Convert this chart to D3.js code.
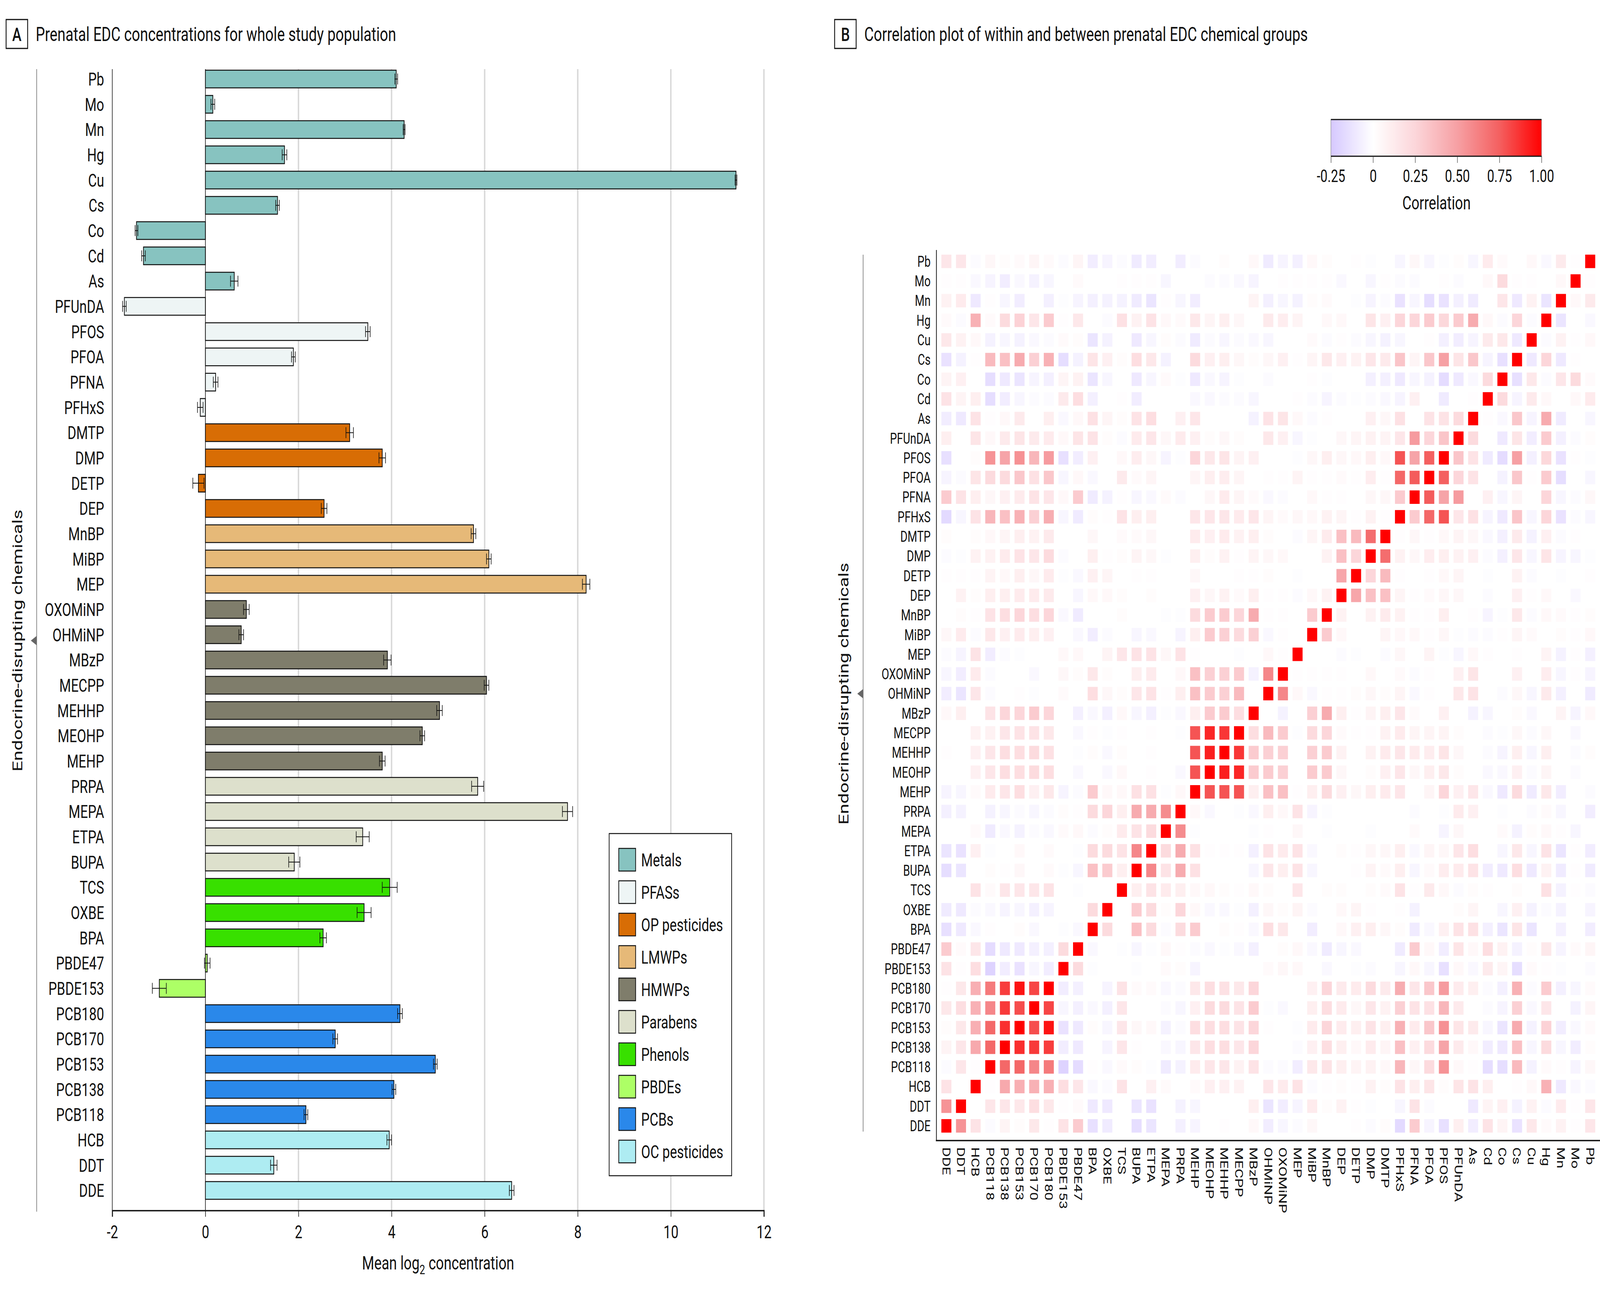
<!DOCTYPE html>
<html>
<head>
<meta charset="utf-8">
<script src="https://cdn.jsdelivr.net/npm/d3@7"></script>
<style>
html, body { margin: 0; padding: 0; background: #fff; overflow: hidden; }
#chart { display: block; width: 100vw; height: 100vh; }
text { font-family: Roboto, "Liberation Sans", sans-serif; fill: #111; }
</style>
</head>
<body>
<svg id="chart" viewBox="0 0 5500 3300" preserveAspectRatio="none"></svg>
<script>
// chemicals, top to bottom in both panels
const chemicals = ["Pb", "Mo", "Mn", "Hg", "Cu", "Cs", "Co", "Cd", "As",
    "PFUnDA", "PFOS", "PFOA", "PFNA", "PFHxS",
    "DMTP", "DMP", "DETP", "DEP",
    "MnBP", "MiBP", "MEP",
    "OXOMiNP", "OHMiNP", "MBzP", "MECPP", "MEHHP", "MEOHP", "MEHP",
    "PRPA", "MEPA", "ETPA", "BUPA",
    "TCS", "OXBE", "BPA",
    "PBDE47", "PBDE153",
    "PCB180", "PCB170", "PCB153", "PCB138", "PCB118",
    "HCB", "DDT", "DDE"];

const chemGroup = ["Metals", "Metals", "Metals", "Metals", "Metals", "Metals", "Metals", "Metals", "Metals",
    "PFASs", "PFASs", "PFASs", "PFASs", "PFASs",
    "OP pesticides", "OP pesticides", "OP pesticides", "OP pesticides",
    "LMWPs", "LMWPs", "LMWPs",
    "HMWPs", "HMWPs", "HMWPs", "HMWPs", "HMWPs", "HMWPs", "HMWPs",
    "Parabens", "Parabens", "Parabens", "Parabens",
    "Phenols", "Phenols", "Phenols",
    "PBDEs", "PBDEs",
    "PCBs", "PCBs", "PCBs", "PCBs", "PCBs",
    "OC pesticides", "OC pesticides", "OC pesticides"];

const meanLog2 = [4.10, 0.16, 4.27, 1.70, 11.40, 1.55, -1.48, -1.33, 0.62,
    -1.74, 3.49, 1.89, 0.22, -0.11,
    3.10, 3.80, -0.15, 2.55,
    5.76, 6.09, 8.18,
    0.88, 0.77, 3.91, 6.04, 5.03, 4.66, 3.80,
    5.85, 7.78, 3.38, 1.91,
    3.96, 3.41, 2.53,
    0.04, -0.99,
    4.18, 2.79, 4.94, 4.05, 2.16,
    3.95, 1.47, 6.58];

const meanErr = [0.03, 0.04, 0.02, 0.05, 0.02, 0.04, 0.03, 0.04, 0.08,
    0.04, 0.05, 0.04, 0.05, 0.06,
    0.08, 0.07, 0.12, 0.06,
    0.05, 0.05, 0.08,
    0.06, 0.05, 0.08, 0.05, 0.06, 0.05, 0.06,
    0.13, 0.11, 0.14, 0.12,
    0.16, 0.15, 0.07,
    0.06, 0.15,
    0.05, 0.05, 0.04, 0.04, 0.04,
    0.05, 0.07, 0.05];

const groupNames = ["Metals", "PFASs", "OP pesticides", "LMWPs", "HMWPs",
    "Parabens", "Phenols", "PBDEs", "PCBs", "OC pesticides"];
const groupFill = ["#87c3c0", "#eef5f5", "#d86d05", "#e6b978", "#7f7d6b",
    "#dde0cc", "#38e000", "#adff66", "#2a88ea", "#aeecf2"];

const xTicks = [-2, 0, 2, 4, 6, 8, 10, 12];
const corrTicks = [-0.25, 0, 0.25, 0.5, 0.75, 1];
const corrTickLabels = ["-0.25", "0", "0.25", "0.50", "0.75", "1.00"];

// correlations, row i = chemicals[i], entries for columns DDE, DDT, HCB, ... (reverse order) up to chemicals[i+1]
const corrRows = [
    [0.15, 0.15, -0.02, 0.05, 0.02, 0.03, 0.06, 0.03, -0.02, 0.06, -0.08, -0.05, -0.02, -0.09, -0.08, 0, -0.08, -0.02, 0, 0.02, 0, 0.04, -0.09, -0.05, -0.07, 0.04, 0.02, 0, 0.01, -0.01, 0, -0.04, 0.05, -0.04, -0.01, 0.02, -0.04, 0.12, 0.03, 0, 0.04, -0.03, 0.13, 0.01],
    [0.01, 0.01, -0.03, -0.05, -0.08, -0.03, -0.06, -0.04, 0, 0.03, 0, 0, 0.01, 0.01, 0.01, -0.04, 0, 0, -0.02, -0.02, -0.03, -0.05, 0, 0.01, 0.01, 0.01, 0.01, -0.03, 0, -0.04, 0.01, -0.02, -0.02, 0, 0.01, -0.02, 0, 0.04, 0.22, 0.01, 0.01, 0, 0.04],
    [0.08, 0.12, -0.1, 0.01, -0.04, -0.08, 0, -0.07, -0.01, -0.05, -0.07, -0.06, -0.06, -0.09, -0.12, 0.01, -0.04, -0.08, 0, 0, 0, 0.07, -0.07, -0.04, -0.06, 0.02, 0.03, 0, -0.01, -0.05, -0.02, -0.13, -0.04, -0.15, -0.13, -0.07, -0.09, 0, 0.15, -0.1, 0.08, -0.12],
    [0.03, -0.02, 0.42, 0.03, 0.22, 0.27, 0.15, 0.3, 0.01, 0.14, 0, -0.02, 0.18, 0.08, 0.17, 0.04, 0.03, 0.14, 0.06, 0.1, 0.05, 0, 0.13, 0.11, 0.07, 0, 0.04, 0.04, 0, 0.16, 0.09, 0.25, 0.25, 0.3, 0.24, 0.3, 0.45, 0.04, -0.02, 0.25, -0.02],
    [0.14, 0.08, 0.04, -0.06, -0.04, -0.06, -0.03, -0.02, 0.03, 0.02, -0.12, -0.06, 0, -0.1, -0.04, 0.02, -0.02, -0.09, -0.02, -0.04, -0.02, -0.03, -0.04, 0, 0, 0.03, -0.02, 0.01, -0.02, -0.04, -0.06, -0.04, 0, 0.01, -0.07, -0.08, -0.05, 0.13, 0.14, -0.1],
    [-0.13, -0.06, 0.01, 0.38, 0.35, 0.45, 0.28, 0.42, -0.15, -0.06, 0.16, 0.09, 0.02, 0.2, 0.14, -0.06, 0, 0.22, 0.09, 0.1, 0.05, 0.02, 0.05, 0.09, 0.01, 0.06, 0.14, 0.09, 0.08, 0.15, 0.13, 0.33, 0.06, 0.32, 0.5, 0.16, 0.32, -0.05, -0.14],
    [0.07, 0.09, 0, -0.15, -0.1, -0.12, -0.05, -0.07, 0.06, 0.08, -0.12, -0.04, 0, -0.1, -0.04, 0.03, -0.01, -0.1, -0.03, -0.05, -0.01, 0, -0.02, 0, 0, 0.01, -0.01, 0, 0, -0.07, -0.07, -0.1, -0.04, -0.06, -0.16, -0.1, -0.03, 0.22],
    [0.17, 0.07, 0.1, -0.15, -0.08, -0.04, -0.02, -0.02, 0.13, 0.2, -0.07, 0, 0.01, -0.08, 0, 0, 0, -0.03, -0.03, -0.02, -0.02, -0.04, 0, 0, 0.01, -0.02, -0.05, -0.02, -0.01, -0.02, -0.03, -0.05, 0.09, 0, -0.09, 0, 0.01],
    [-0.08, -0.1, 0.17, 0.01, 0.04, 0.13, 0, 0.1, -0.03, 0.04, 0.18, 0.06, 0.02, 0.17, 0.2, 0, 0.09, 0.15, 0, 0, 0, -0.06, 0.17, 0.16, 0.04, -0.02, 0.01, 0, 0, 0.09, 0.05, 0.18, 0, 0.17, 0.17, 0.22],
    [0.1, 0, 0.16, 0.04, 0.13, 0.16, 0.13, 0.12, 0.04, 0.16, 0.17, 0.02, -0.02, 0.12, 0.15, 0.05, 0.12, 0.09, 0.02, 0.05, 0.02, 0, 0.14, 0.09, -0.04, -0.01, 0, 0.05, 0.06, 0.08, 0.07, 0.15, 0.52, 0.25, 0.33],
    [-0.14, 0, 0.02, 0.55, 0.48, 0.56, 0.4, 0.52, -0.14, -0.08, 0.09, 0, 0.04, 0.11, 0.05, -0.05, -0.01, 0.25, 0.14, 0.16, 0.07, 0.09, 0, 0, -0.01, 0.05, 0.1, 0.05, 0.04, 0.1, 0.04, 0.78, 0.48, 0.75],
    [-0.05, -0.02, 0.16, 0.22, 0.22, 0.32, 0.18, 0.32, -0.04, 0.04, -0.03, 0, 0.13, 0.03, 0.06, 0, 0, 0.06, 0.1, 0.11, 0.06, 0, 0.01, 0.01, 0.07, 0.01, 0.01, 0.03, 0.01, 0.11, 0.01, 0.72, 0.76],
    [0.3, 0.17, 0.1, 0.05, 0.09, 0.12, 0.17, 0.15, 0.04, 0.3, -0.09, -0.06, 0.01, -0.04, -0.03, 0.03, -0.02, 0, 0.05, 0.12, 0.06, 0.03, -0.03, -0.02, 0, 0.04, 0.01, 0.01, 0, 0.05, 0.05, 0.3],
    [-0.17, -0.04, 0.17, 0.4, 0.35, 0.42, 0.28, 0.44, -0.04, -0.09, 0.02, 0.01, 0.17, 0.1, 0.1, 0, 0, 0.15, 0.15, 0.15, 0.12, 0.15, 0.06, 0.03, 0.05, 0.04, 0.08, 0.06, 0.01, 0.08, 0.01],
    [0.02, 0, 0.02, 0.04, 0.06, 0.1, 0.08, 0.13, 0, 0, 0.05, 0, 0.03, 0.03, 0.05, 0, 0, 0.12, 0.09, 0.12, 0.08, 0.1, 0.02, 0, -0.02, 0.06, 0.12, 0.35, 0.38, 0.7],
    [-0.02, -0.01, 0.08, 0.08, 0.12, 0.17, 0.15, 0.22, -0.02, 0, 0.1, 0.01, 0.02, 0.07, 0.05, -0.01, 0, 0.1, 0.02, 0.08, 0.01, 0.07, 0.05, 0.04, 0, 0, 0.08, 0.35, 0.25],
    [0.01, 0.01, 0.01, 0.07, 0.04, 0.1, 0.05, 0.12, -0.01, -0.03, 0.09, 0.06, 0, 0.01, 0.01, 0, 0, 0.05, 0, 0, 0.01, 0.01, 0.02, 0, -0.01, 0, 0, 0.47],
    [0, 0.08, 0.02, 0.1, 0.1, 0.12, 0.12, 0.13, 0, -0.04, 0.04, 0.04, 0.02, 0, 0.02, 0, 0, 0.09, 0.05, 0.08, 0.03, 0.1, 0.01, 0.01, -0.02, 0.04, 0.08],
    [0, 0.02, 0.01, 0.17, 0.2, 0.25, 0.2, 0.25, -0.03, -0.09, 0, 0, 0.02, 0, 0, -0.01, -0.01, 0.22, 0.3, 0.3, 0.25, 0.45, 0.01, 0.01, 0, 0.3],
    [0.05, 0.12, -0.02, 0.14, 0.09, 0.12, 0.1, 0.09, 0, -0.03, -0.08, -0.02, 0, -0.04, -0.03, 0, -0.05, 0.1, 0.3, 0.28, 0.22, 0.28, -0.03, 0.01, 0],
    [-0.02, -0.05, 0.17, -0.08, -0.02, -0.01, 0, 0, 0.04, 0.04, 0, 0.07, 0.15, 0.17, 0.17, 0.05, 0.17, 0.01, 0, 0, -0.01, 0, 0.04, 0.01],
    [-0.04, -0.08, 0.12, -0.02, 0, 0, -0.03, 0, 0.05, 0.02, 0.14, 0.02, 0, 0.1, 0.12, 0, 0.04, 0.35, 0.28, 0.28, 0.3, -0.06, 0.6],
    [-0.08, -0.12, 0.15, -0.02, 0, 0.01, -0.01, 0, 0.03, 0, 0.2, 0.05, 0.02, 0.15, 0.17, 0.01, 0.1, 0.35, 0.3, 0.28, 0.38, 0],
    [0.04, 0.1, 0, 0.17, 0.25, 0.25, 0.3, 0.25, 0, -0.07, -0.03, -0.07, 0.04, -0.04, -0.07, -0.01, -0.03, 0.1, 0.3, 0.3, 0.2],
    [0, 0, 0.08, 0.08, 0.15, 0.17, 0.17, 0.14, 0, -0.03, 0.01, -0.01, 0.01, 0, 0.01, 0, -0.01, 0.78, 0.9, 0.86],
    [0.01, 0, 0.09, 0.15, 0.2, 0.2, 0.22, 0.18, 0, -0.01, 0.02, -0.03, 0.02, 0, 0.01, 0, 0, 0.78, 0.92],
    [0, 0, 0.09, 0.15, 0.2, 0.2, 0.22, 0.2, 0, -0.03, 0, -0.03, 0.04, 0, 0.01, 0, -0.03, 0.78],
    [-0.05, -0.04, 0.03, 0.12, 0.15, 0.2, 0.09, 0.14, -0.05, -0.02, 0.3, 0.04, 0.04, 0.18, 0.18, -0.01, 0.04],
    [-0.07, -0.06, 0, -0.06, -0.04, -0.02, -0.04, -0.02, 0.02, 0.01, 0.22, 0.25, 0.1, 0.45, 0.45, 0.58],
    [0, 0, 0.03, -0.09, -0.03, -0.06, -0.02, -0.03, 0.03, 0.04, -0.02, 0.02, 0.12, 0.17, 0.22],
    [-0.12, -0.13, 0.09, -0.01, 0, 0.04, 0, 0.03, 0, -0.01, 0.22, 0.22, 0.17, 0.6],
    [-0.15, -0.12, 0, 0.02, 0.01, 0.05, 0, 0.03, -0.01, -0.04, 0.35, 0.3, 0.1],
    [0, 0, 0.17, 0.03, 0.15, 0.15, 0.15, 0.17, 0, -0.01, 0, 0],
    [-0.09, -0.1, -0.02, -0.03, -0.05, -0.04, -0.07, -0.05, 0, 0, 0.22],
    [-0.14, -0.1, -0.03, 0.01, 0, 0.02, -0.03, 0, -0.01, -0.03],
    [0.3, 0.03, 0.15, -0.16, -0.1, -0.1, -0.07, -0.07, 0.22],
    [0.17, 0.01, 0.2, -0.2, -0.08, -0.13, -0.04, -0.08],
    [0.01, 0.14, 0.43, 0.65, 0.84, 0.95, 0.82],
    [0.14, 0.2, 0.42, 0.6, 0.85, 0.8],
    [0.02, 0.14, 0.43, 0.72, 0.88],
    [0.07, 0.15, 0.46, 0.72],
    [-0.02, 0.15, 0.01],
    [0.17, 0],
    [0.55],
    []
];

const n = chemicals.length;
const corr = (i, j) => {
    if (i === j) return 1;
    const a = Math.min(i, j), b = Math.max(i, j);
    return corrRows[a][n - 1 - b];
};

const svg = d3.select("#chart");
svg.append("rect").attr("width", 5500).attr("height", 3300).attr("fill", "#fff");

// ---------- panel A: bars ----------
const x = d3.scaleLinear().domain([-2, 12]).range([386, 2626]);
const y = d3.scaleBand().domain(chemicals).range([170, 3080]).paddingInner(0.3).paddingOuter(0.15);
const fill = d3.scaleOrdinal().domain(groupNames).range(groupFill);
const plotTop = 177, plotBottom = 3099;

const gA = svg.append("g");

gA.selectAll(".grid")
    .data(xTicks.filter(d => d > 0))
    .join("line")
    .attr("class", "grid")
    .attr("x1", d => x(d)).attr("x2", d => x(d))
    .attr("y1", plotTop).attr("y2", plotBottom)
    .attr("stroke", "#d9d9d9")
    .attr("stroke-width", 5);

[-2, 0].forEach(v => {
    gA.append("line")
        .attr("x1", x(v)).attr("x2", x(v))
        .attr("y1", plotTop).attr("y2", plotBottom)
        .attr("stroke", "#111")
        .attr("stroke-width", 2);
});

const rows = chemicals.map((c, i) => ({name: c, group: chemGroup[i], value: meanLog2[i], err: meanErr[i]}));

gA.selectAll(".bar")
    .data(rows)
    .join("rect")
    .attr("class", "bar")
    .attr("x", d => x(Math.min(0, d.value)))
    .attr("y", d => y(d.name))
    .attr("width", d => Math.abs(x(d.value) - x(0)))
    .attr("height", y.bandwidth())
    .attr("fill", d => fill(d.group))
    .attr("stroke", "#111")
    .attr("stroke-width", 2.5);

const eb = gA.selectAll(".err")
    .data(rows)
    .join("g")
    .attr("class", "err")
    .attr("transform", d => `translate(0,${y(d.name) + y.bandwidth() / 2})`)
    .attr("stroke", "#111")
    .attr("stroke-width", 2);
eb.append("line")
    .attr("x1", d => x(d.value - d.err)).attr("x2", d => x(d.value + d.err))
    .attr("y1", 0).attr("y2", 0);
eb.append("line")
    .attr("x1", d => x(d.value - d.err)).attr("x2", d => x(d.value - d.err))
    .attr("y1", -14).attr("y2", 14);
eb.append("line")
    .attr("x1", d => x(d.value + d.err)).attr("x2", d => x(d.value + d.err))
    .attr("y1", -14).attr("y2", 14);

gA.selectAll(".ylab")
    .data(chemicals)
    .join("text")
    .attr("class", "ylab")
    .attr("x", 358)
    .attr("y", d => y(d) + y.bandwidth() / 2)
    .attr("dy", "0.36em")
    .attr("text-anchor", "end")
    .style("font-size", "46px")
    .text(d => d);

const xAxis = gA.append("g")
    .attr("transform", `translate(0,${plotBottom})`)
    .call(d3.axisBottom(x).tickValues(xTicks).tickSize(16).tickPadding(22).tickFormat(d3.format("d")));
xAxis.select(".domain").attr("stroke", "#111").attr("stroke-width", 3.5);
xAxis.selectAll(".tick line").attr("stroke", "#111").attr("stroke-width", 2);
xAxis.selectAll(".tick text")
    .style("font-size", "46px")
    .style("font-family", "Roboto, sans-serif")
    .attr("fill", "#111")
    .text(d => d < 0 ? "-" + Math.abs(d) : d);

const xTitle = gA.append("text")
    .attr("x", 1506)
    .attr("y", 3250)
    .attr("text-anchor", "middle")
    .style("font-size", "48px");
xTitle.append("tspan").text("Mean log");
xTitle.append("tspan").attr("dy", 12).style("font-size", "34px").text("2");
xTitle.append("tspan").attr("dy", -12).text(" concentration");

// y title with bracket
gA.append("line")
    .attr("x1", 126).attr("x2", 126)
    .attr("y1", plotTop).attr("y2", 3102)
    .attr("stroke", "#888").attr("stroke-width", 2.5);
gA.append("path")
    .attr("d", `M126,${1640 - 12}L106,1640L126,${1640 + 12}Z`)
    .attr("fill", "#666");
gA.append("text")
    .attr("transform", "translate(77,1640) rotate(-90)")
    .attr("text-anchor", "middle")
    .style("font-size", "48px")
    .text("Endocrine-disrupting chemicals");

// legend
const lg = gA.append("g");
lg.append("rect")
    .attr("x", 2094).attr("y", 2134)
    .attr("width", 421).attr("height", 876)
    .attr("fill", "#fff")
    .attr("stroke", "#111")
    .attr("stroke-width", 2.5);
const li = lg.selectAll(".leg")
    .data(groupNames)
    .join("g")
    .attr("class", "leg")
    .attr("transform", (d, i) => `translate(2127,${2201 + i * 83})`);
li.append("rect")
    .attr("x", 0).attr("y", -29)
    .attr("width", 58).attr("height", 58)
    .attr("fill", d => fill(d))
    .attr("stroke", "#111")
    .attr("stroke-width", 2.5);
li.append("text")
    .attr("x", 77)
    .attr("dy", "0.36em")
    .style("font-size", "46px")
    .text(d => d);

// panel titles
function panelTitle(xBox, letter, label) {
    svg.append("rect")
        .attr("x", xBox).attr("y", 50)
        .attr("width", 74).attr("height", 74)
        .attr("fill", "#fff")
        .attr("stroke", "#111")
        .attr("stroke-width", 3);
    svg.append("text")
        .attr("x", xBox + 37).attr("y", 105)
        .attr("text-anchor", "middle")
        .style("font-size", "48px")
        .style("font-weight", "500")
        .text(letter);
    svg.append("text")
        .attr("x", xBox + 102).attr("y", 105)
        .style("font-size", "50px")
        .text(label);
}
panelTitle(21, "A", "Prenatal EDC concentrations for whole study population");
panelTitle(2869, "B", "Correlation plot of within and between prenatal EDC chemical groups");

// ---------- panel B: correlation heatmap ----------
const colDomain = chemicals.slice().reverse();
const xh = d3.scaleBand().domain(colDomain).range([3228, 5491.5]).paddingInner(0.314).paddingOuter(0.157);
const yh = d3.scaleBand().domain(chemicals).range([644, 2907.5]).paddingInner(0.314).paddingOuter(0.157);
const color = d3.scaleLinear()
    .domain(corrTicks)
    .range(["#d6c8ff", "#ffffff", "#fcd6da", "#f6a0a4", "#f46060", "#ff0000"])
    .clamp(true);

const cells = [];
chemicals.forEach((ri, i) => {
    chemicals.forEach((cj, j) => {
        cells.push({row: ri, col: cj, value: corr(i, j)});
    });
});

const gB = svg.append("g");
gB.selectAll(".cell")
    .data(cells)
    .join("rect")
    .attr("class", "cell")
    .attr("x", d => xh(d.col))
    .attr("y", d => yh(d.row))
    .attr("width", xh.bandwidth())
    .attr("height", yh.bandwidth())
    .attr("fill", d => color(d.value));

gB.append("line")
    .attr("x1", 3219).attr("x2", 3219)
    .attr("y1", 640).attr("y2", 2921)
    .attr("stroke", "#111").attr("stroke-width", 2.5);
gB.append("line")
    .attr("x1", 3217).attr("x2", 5500)
    .attr("y1", 2920).attr("y2", 2920)
    .attr("stroke", "#111").attr("stroke-width", 3.5);

gB.selectAll(".hy")
    .data(chemicals)
    .join("text")
    .attr("class", "hy")
    .attr("x", 3199)
    .attr("y", d => yh(d) + yh.bandwidth() / 2)
    .attr("dy", "0.36em")
    .attr("text-anchor", "end")
    .style("font-size", "38px")
    .text(d => d);

gB.selectAll(".hx")
    .data(colDomain)
    .join("text")
    .attr("class", "hx")
    .attr("transform", d => `translate(${xh(d) + xh.bandwidth() / 2},2937) rotate(90)`)
    .attr("dy", "0.36em")
    .attr("text-anchor", "start")
    .style("font-size", "38px")
    .text(d => d);

gB.append("line")
    .attr("x1", 2967).attr("x2", 2967)
    .attr("y1", 652).attr("y2", 2897)
    .attr("stroke", "#888").attr("stroke-width", 2.5);
gB.append("path")
    .attr("d", `M2967,${1776 - 12}L2947,1776L2967,${1776 + 12}Z`)
    .attr("fill", "#666");
gB.append("text")
    .attr("transform", "translate(2917,1776) rotate(-90)")
    .attr("text-anchor", "middle")
    .style("font-size", "48px")
    .text("Endocrine-disrupting chemicals");

// colour bar
const cb = d3.scaleLinear().domain([-0.25, 1]).range([4575, 5299]);
const grad = svg.append("defs").append("linearGradient")
    .attr("id", "corrGrad")
    .attr("x1", "0%").attr("x2", "100%");
d3.range(0, 1.0001, 0.02).forEach(t => {
    const v = -0.25 + t * 1.25;
    grad.append("stop").attr("offset", `${t * 100}%`).attr("stop-color", color(v));
});
gB.append("rect")
    .attr("x", cb(-0.25)).attr("y", 306)
    .attr("width", cb(1) - cb(-0.25)).attr("height", 94)
    .attr("fill", "url(#corrGrad)")
    .attr("stroke", "#888").attr("stroke-width", 1.5);
[306, 400].forEach(yy => {
    gB.append("line")
        .attr("x1", cb(-0.25)).attr("x2", cb(1))
        .attr("y1", yy).attr("y2", yy)
        .attr("stroke", "#111").attr("stroke-width", 3);
});
const cbAxis = gB.append("g")
    .attr("transform", "translate(0,400)")
    .call(d3.axisBottom(cb).tickValues(corrTicks).tickSize(17).tickPadding(18)
        .tickFormat((d, i) => corrTickLabels[i]));
cbAxis.select(".domain").remove();
cbAxis.selectAll(".tick line").attr("stroke", "#333").attr("stroke-width", 1.5);
cbAxis.selectAll(".tick text")
    .style("font-size", "44px")
    .style("font-family", "Roboto, sans-serif")
    .attr("fill", "#111");
gB.append("text")
    .attr("x", 4938).attr("y", 536)
    .attr("text-anchor", "middle")
    .style("font-size", "48px")
    .text("Correlation");
</script>
</body>
</html>
